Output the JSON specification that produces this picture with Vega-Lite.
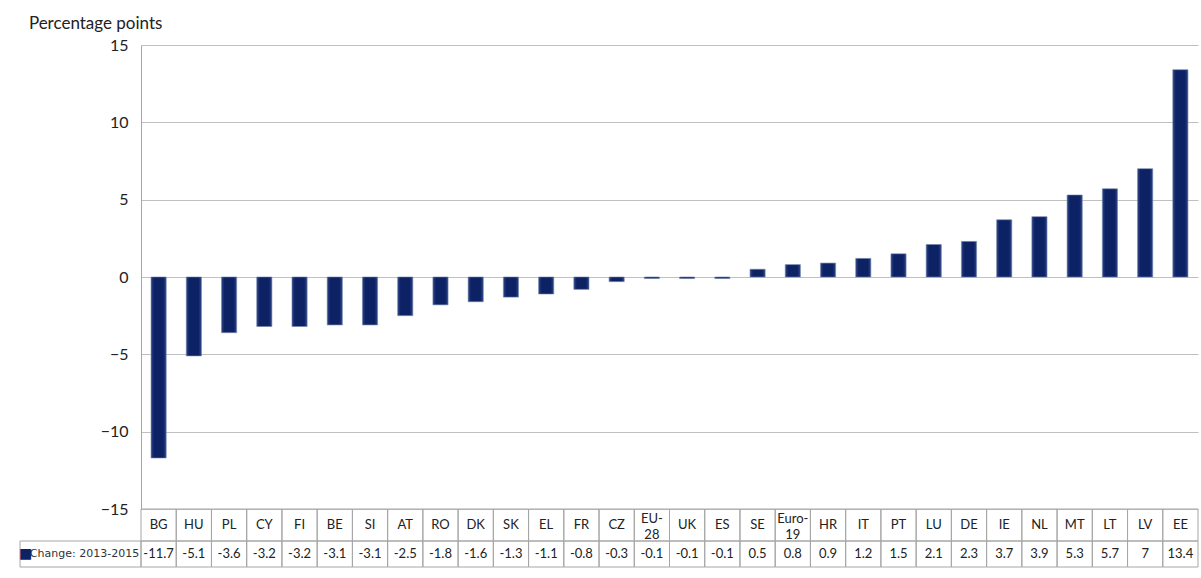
{
  "$schema": "https://vega.github.io/schema/vega-lite/v6.json",
  "padding": {"left": 18, "top": 15, "right": 0, "bottom": 0},
  "background": "white",
  "title": {"text": "Percentage points", "anchor": "start", "frame": "bounds", "fontSize": 17, "font": "Lato", "fontWeight": "normal", "color": "#222222", "offset": 4, "dx": 10},
  "datasets": {
    "d": [
      {"country": "BG", "label": "BG", "value": -11.7},
      {"country": "HU", "label": "HU", "value": -5.1},
      {"country": "PL", "label": "PL", "value": -3.6},
      {"country": "CY", "label": "CY", "value": -3.2},
      {"country": "FI", "label": "FI", "value": -3.2},
      {"country": "BE", "label": "BE", "value": -3.1},
      {"country": "SI", "label": "SI", "value": -3.1},
      {"country": "AT", "label": "AT", "value": -2.5},
      {"country": "RO", "label": "RO", "value": -1.8},
      {"country": "DK", "label": "DK", "value": -1.6},
      {"country": "SK", "label": "SK", "value": -1.3},
      {"country": "EL", "label": "EL", "value": -1.1},
      {"country": "FR", "label": "FR", "value": -0.8},
      {"country": "CZ", "label": "CZ", "value": -0.3},
      {"country": "EU-28", "label": "EU-\n28", "value": -0.1},
      {"country": "UK", "label": "UK", "value": -0.1},
      {"country": "ES", "label": "ES", "value": -0.1},
      {"country": "SE", "label": "SE", "value": 0.5},
      {"country": "Euro-19", "label": "Euro-\n19", "value": 0.8},
      {"country": "HR", "label": "HR", "value": 0.9},
      {"country": "IT", "label": "IT", "value": 1.2},
      {"country": "PT", "label": "PT", "value": 1.5},
      {"country": "LU", "label": "LU", "value": 2.1},
      {"country": "DE", "label": "DE", "value": 2.3},
      {"country": "IE", "label": "IE", "value": 3.7},
      {"country": "NL", "label": "NL", "value": 3.9},
      {"country": "MT", "label": "MT", "value": 5.3},
      {"country": "LT", "label": "LT", "value": 5.7},
      {"country": "LV", "label": "LV", "value": 7},
      {"country": "EE", "label": "EE", "value": 13.4}
    ]
  },
  "columns": 2,
  "spacing": 0,
  "bounds": "flush",
  "concat": [
    {"width": 121, "height": 464, "data": {"values": []}, "mark": "rect", "encoding": {}},
    {
      "width": 1057, "height": 464,
      "data": {"name": "d"},
      "mark": {"type": "bar", "color": {"gradient": "linear", "x1": 0, "y1": 0, "x2": 1, "y2": 0, "stops": [{"offset": 0, "color": "#2c4585"}, {"offset": 0.2, "color": "#0c2265"}, {"offset": 0.8, "color": "#0c2265"}, {"offset": 1, "color": "#2c4585"}]}, "stroke": "#6f7fa8", "strokeWidth": 0.6},
      "encoding": {
        "x": {"field": "country", "type": "nominal", "sort": null, "scale": {"paddingInner": 0.57, "paddingOuter": 0.285}, "axis": null},
        "y": {"field": "value", "type": "quantitative", "scale": {"domain": [-15, 15], "nice": false}, "axis": {"values": [-15, -10, -5, 0, 5, 10, 15], "title": null, "grid": true, "gridColor": "#c0c0c0", "domainColor": "#a6a6a6", "ticks": false, "labelPadding": 13, "labelFontSize": 16, "labelColor": "#222222", "labelFont": "Lato"}}
      }
    },
    {"width": 121, "height": 32, "data": {"values": []}, "mark": "rect", "encoding": {}},
    {
      "width": 1057, "height": 32,
      "data": {"name": "d"},
      "encoding": {"x": {"field": "country", "type": "nominal", "sort": null, "scale": {"paddingInner": 0, "paddingOuter": 0}, "axis": null}},
      "layer": [
        {"mark": {"type": "rect", "filled": false, "stroke": "#a6a6a6", "strokeWidth": 1}},
        {"transform": [{"filter": "indexof(datum.label, '\\n') < 0"}], "mark": {"type": "text", "fontSize": 13, "font": "Lato", "color": "#222222"}, "encoding": {"text": {"field": "label", "type": "nominal"}}},
        {"transform": [{"filter": "indexof(datum.label, '\\n') >= 0"}], "mark": {"type": "text", "fontSize": 13, "font": "Lato", "color": "#222222", "lineBreak": "\n", "lineHeight": 16, "dy": -6}, "encoding": {"text": {"field": "label", "type": "nominal"}}}
      ]
    },
    {
      "width": 121, "height": 26,
      "data": {"values": [{"series": "Change: 2013-2015"}]},
      "layer": [
        {"mark": {"type": "rect", "filled": false, "stroke": "#a6a6a6", "strokeWidth": 1}, "encoding": {}},
        {"mark": {"type": "text", "font": "DejaVu Sans", "fontSize": 11, "color": "#333333", "dx": 4}, "encoding": {"text": {"field": "series", "type": "nominal"}}},
        {"mark": {"type": "text", "text": "■", "font": "DejaVu Sans", "fontSize": 14, "color": "#0c2265", "dx": -55}, "encoding": {}}
      ]
    },
    {
      "width": 1057, "height": 26,
      "data": {"name": "d"},
      "encoding": {"x": {"field": "country", "type": "nominal", "sort": null, "scale": {"paddingInner": 0, "paddingOuter": 0}, "axis": null}},
      "layer": [
        {"mark": {"type": "rect", "filled": false, "stroke": "#a6a6a6", "strokeWidth": 1}},
        {"mark": {"type": "text", "fontSize": 13, "font": "Lato", "color": "#222222"}, "encoding": {"text": {"field": "value", "type": "nominal"}}}
      ]
    }
  ],
  "config": {"view": {"stroke": null}, "font": "Lato"}
}
